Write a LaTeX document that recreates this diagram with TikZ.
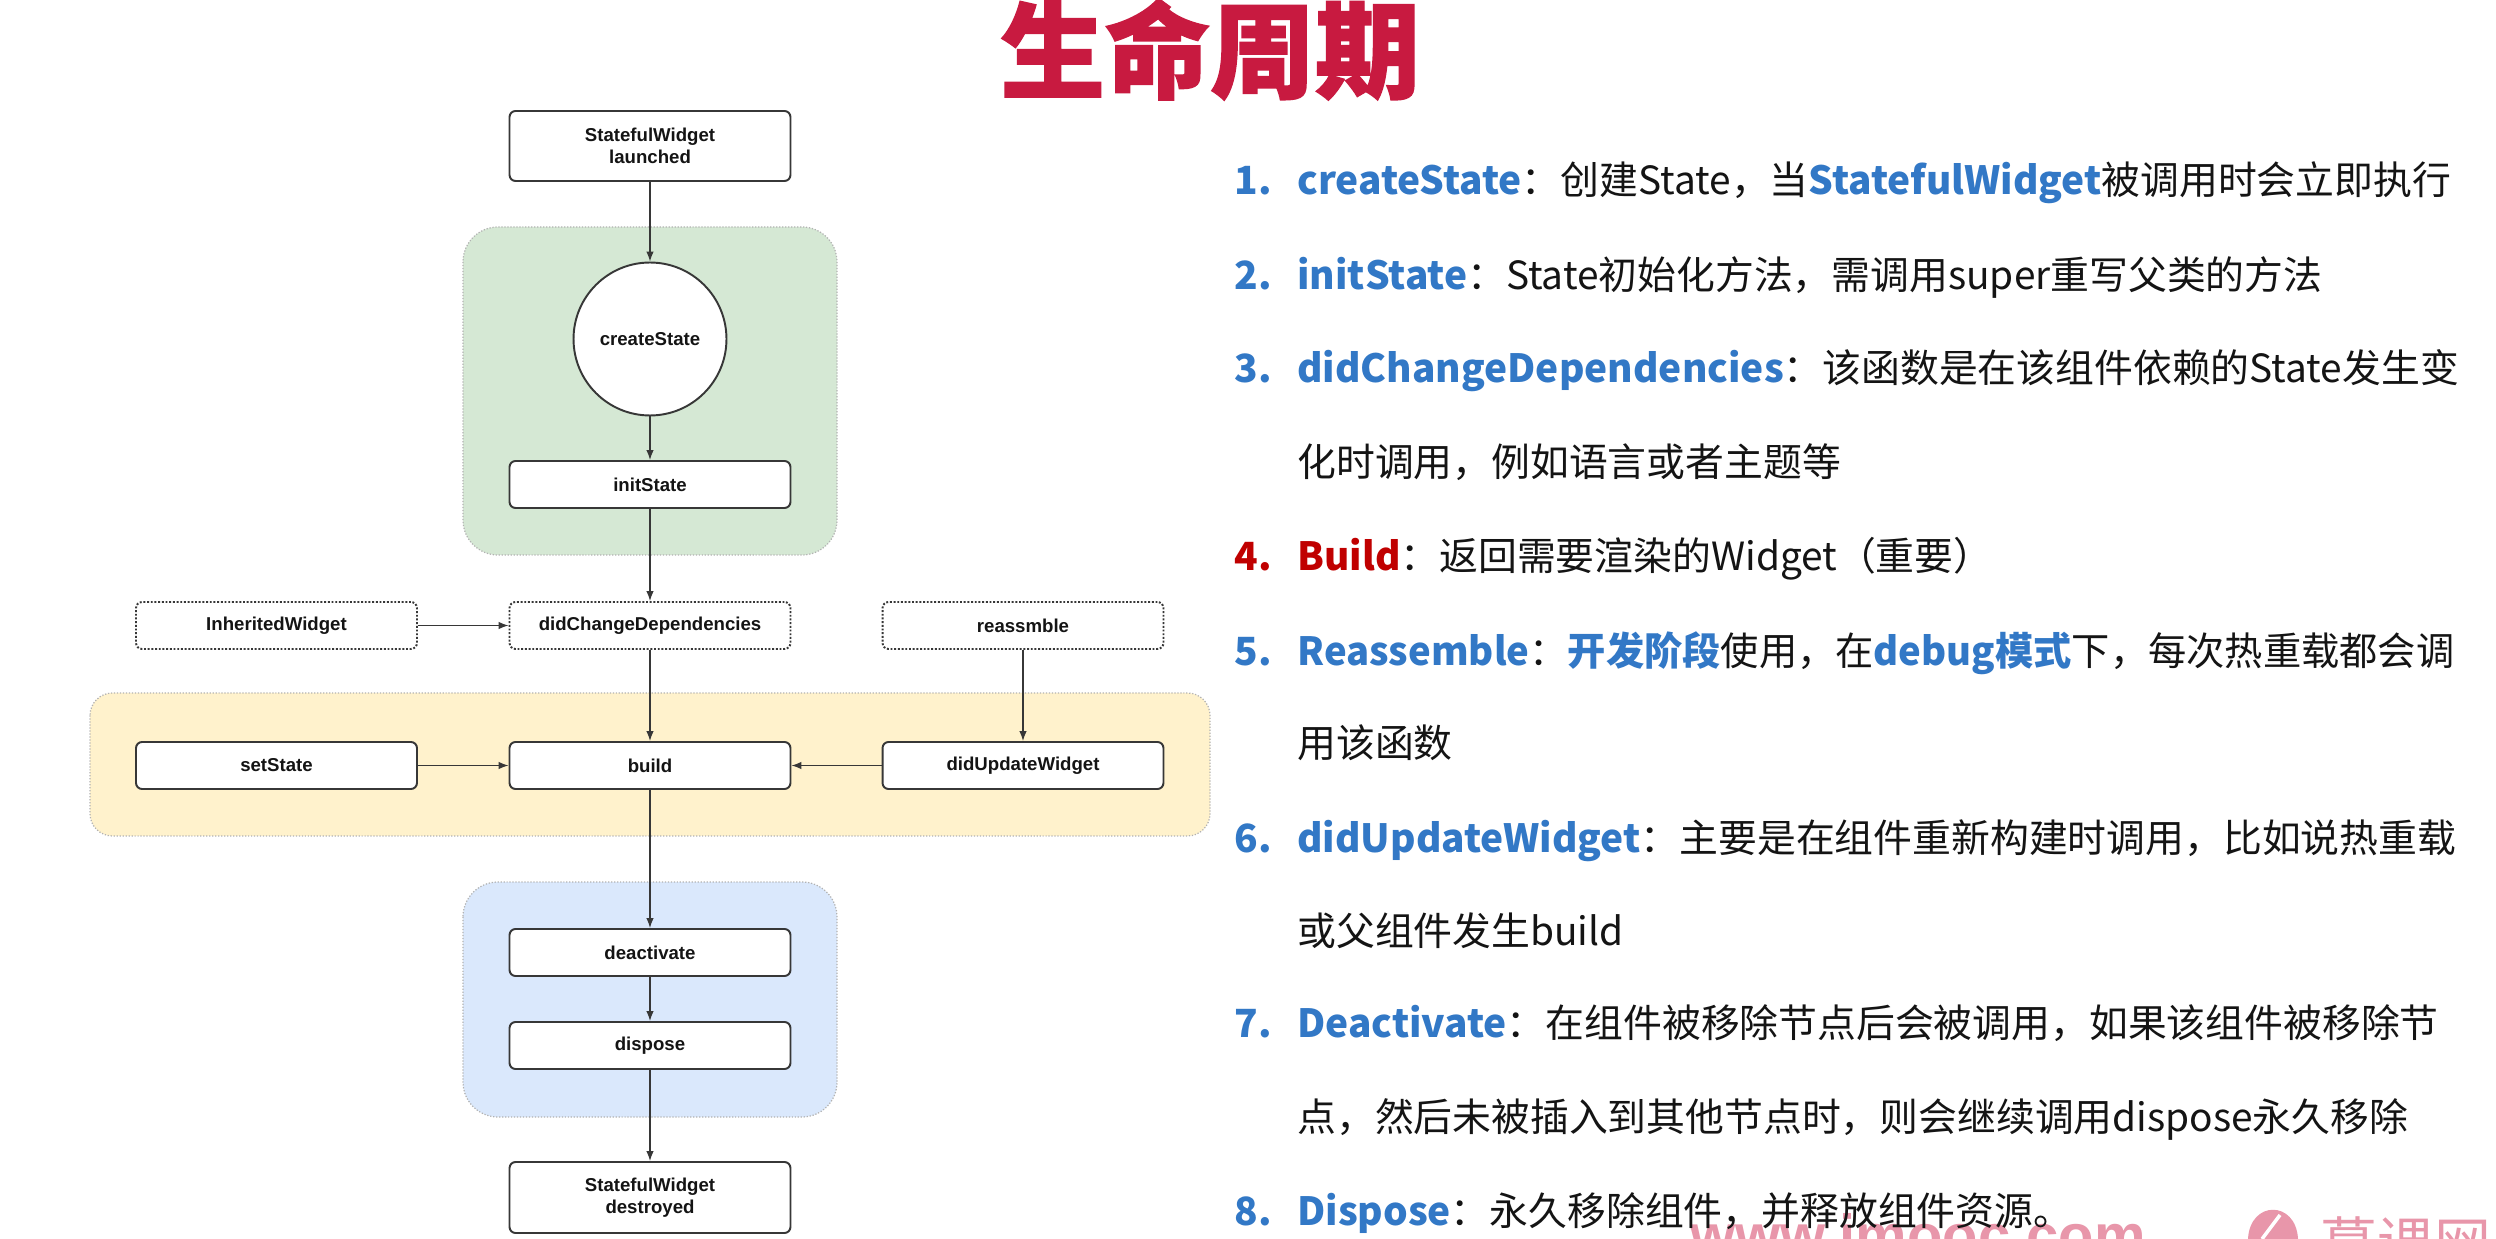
\documentclass[tikz,border=0pt]{standalone}
\usepackage{fontspec}
\usetikzlibrary{arrows.meta}
\newfontfamily\boxfont{Liberation Sans}
\newfontfamily\cjk{Noto Sans CJK SC}
\newfontfamily\cjkheavy{Noto Sans CJK SC}[BoldFeatures={FakeBold=1.3}]

\definecolor{ink}{RGB}{20,20,20}
\definecolor{edgegray}{RGB}{55,55,55}
\definecolor{termblue}{RGB}{50,120,198}
\definecolor{termred}{RGB}{192,0,0}
\definecolor{titlered}{RGB}{200,26,64}
\definecolor{grnfill}{HTML}{D5E8D4}
\definecolor{ylwfill}{HTML}{FFF2CC}
\definecolor{blufill}{HTML}{DAE8FC}
\definecolor{wmpink}{RGB}{232,150,170}

\newcommand\itemnum[2]{\makebox[1.26cm][l]{\bfseries\color{#1}#2}}
\newcommand\term[1]{{\bfseries\color{termblue}#1}}

\tikzset{
  stage/.style={draw=edgegray, line width=1.1pt, fill=white, rounded corners=0.12cm,
    minimum width=5.62cm, minimum height=0.94cm, inner sep=0pt, align=center,
    text=ink, font=\boxfont\bfseries\fontsize{10.6}{12}\selectfont},
  hook/.style={stage, densely dotted},
  roundstage/.style={draw=edgegray, line width=1.1pt, fill=white, circle,
    minimum size=3.06cm, inner sep=0pt, text=ink,
    font=\boxfont\bfseries\fontsize{10.6}{12}\selectfont},
  region/.style={draw=gray!60, densely dotted, line width=0.7pt},
  flow/.style={draw=edgegray, line width=0.75pt, -{Latex[length=0.2cm,width=0.15cm]}},
  item/.style={anchor=base west, inner sep=0pt, text=ink,
    font=\cjk\fontsize{22.1}{27}\selectfont},
}

\begin{document}
\begin{tikzpicture}[x=0.02cm, y=-0.02cm]
\useasboundingbox (0,0) rectangle (2496,1239);
\clip (0,0) rectangle (2496,1239);
\fill[white] (0,0) rectangle (2496,1239);

% title
\node[anchor=base, inner sep=0pt, text=titlered,
  font=\cjkheavy\bfseries\fontsize{59.75}{60}\selectfont] (title) at (1210,90) {生命周期};

% phase backgrounds
\draw[region, fill=grnfill, rounded corners=0.7cm] (463,227) rectangle (837,555);
\draw[region, fill=ylwfill, rounded corners=0.45cm] (90,693) rectangle (1210,836);
\draw[region, fill=blufill, rounded corners=0.7cm] (463,882) rectangle (837,1117);

% lifecycle stages
\node[stage, minimum height=1.4cm] (launch) at (650,146) {StatefulWidget\\[0.5pt]launched};
\node[roundstage] (cs) at (650,339) {createState};
\node[stage] (init) at (650,484.5) {initState};
\node[hook] (inh) at (276.5,625.5) {InheritedWidget};
\node[hook] (dcd) at (650,625.5) {didChangeDependencies};
\node[hook] (reas) at (1023,625.5) {reassmble};
\node[stage] (set) at (276.5,765.5) {setState};
\node[stage] (build) at (650,765.5) {build};
\node[stage] (duw) at (1023,765.5) {didUpdateWidget};
\node[stage] (deact) at (650,952.5) {deactivate};
\node[stage] (disp) at (650,1045.5) {dispose};
\node[stage, minimum height=1.42cm] (gone) at (650,1197.5) {StatefulWidget\\[0.5pt]destroyed};

% transitions
\draw[flow] (launch) -- (cs);
\draw[flow] (cs) -- (init);
\draw[flow] (init) -- (dcd);
\draw[flow] (inh) -- (dcd);
\draw[flow] (dcd) -- (build);
\draw[flow] (reas) -- (duw);
\draw[flow] (set) -- (build);
\draw[flow] (duw) -- (build);
\draw[flow] (build) -- (deact);
\draw[flow] (deact) -- (disp);
\draw[flow] (disp) -- (gone);

% watermark along the bottom edge
\node[anchor=base west, inner sep=0pt, text=wmpink,
  font=\boxfont\bfseries\fontsize{33}{33}\selectfont] (wmurl) at (1690,1255) {www.imooc.com};
\fill[wmpink] (2248,1239) .. controls (2250,1200) and (2296,1200) .. (2298,1239) -- cycle;
\draw[white, line width=2pt] (2262,1239) -- (2280,1215);
\node[anchor=base west, inner sep=0pt, text=wmpink,
  font=\cjk\fontsize{32.4}{33}\selectfont] (wmname) at (2320,1264) {慕课网};

% description list
\node[item] (d1) at (1234,195) {\itemnum{termblue}{1.}\term{createState}：创建State，当\term{StatefulWidget}被调用时会立即执行};
\node[item] (d2) at (1234,290) {\itemnum{termblue}{2.}\term{initState}：State初始化方法，需调用super重写父类的方法};
\node[item] (d3) at (1234,383) {\itemnum{termblue}{3.}\term{didChangeDependencies}：该函数是在该组件依赖的State发生变};
\node[item] (d3b) at (1297,477) {化时调用，例如语言或者主题等};
\node[item] (d4) at (1234,571) {\itemnum{termred}{4.}{\bfseries\color{termred}Build}：返回需要渲染的Widget（重要）};
\node[item] (d5) at (1234,666) {\itemnum{termblue}{5.}\scalebox{0.985}[1]{\term{Reassemble}：\term{开发阶段}使用，在\term{debug模式}下，每次热重载都会调}};
\node[item] (d5b) at (1297,758) {用该函数};
\node[item] (d6) at (1234,852) {\itemnum{termblue}{6.}\term{didUpdateWidget}：主要是在组件重新构建时调用，比如说热重载};
\node[item] (d6b) at (1297,945) {或父组件发生build};
\node[item] (d7) at (1234,1037) {\itemnum{termblue}{7.}\term{Deactivate}：在组件被移除节点后会被调用，如果该组件被移除节};
\node[item] (d7b) at (1297,1131) {点，然后未被插入到其他节点时，则会继续调用dispose永久移除};
\node[item] (d8) at (1234,1225) {\itemnum{termblue}{8.}\term{Dispose}：永久移除组件，并释放组件资源。};
\end{tikzpicture}
\end{document}
